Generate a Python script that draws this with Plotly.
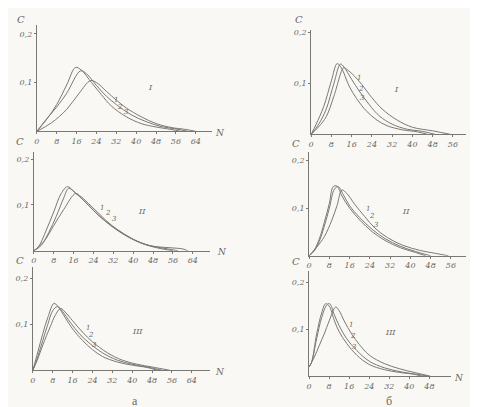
import plotly.graph_objects as go

W, H = 478, 407

# ---------------- data (N, C) ----------------
# panel а-I
aI_N1 = [0, 6, 12, 17, 21.6, 24, 28, 32, 36, 42, 48, 54, 60, 64]
aI_C1 = [0, 0.018, 0.045, 0.078, 0.104, 0.100, 0.082, 0.064, 0.048, 0.030, 0.016, 0.008, 0.004, 0]
aI_N2 = [0, 4, 8, 12, 17.6, 20, 24, 28, 32, 38, 44, 50, 56, 61]
aI_C2 = [0, 0.026, 0.050, 0.078, 0.124, 0.118, 0.094, 0.072, 0.055, 0.034, 0.020, 0.010, 0.005, 0]
aI_N3 = [0, 4, 8, 12, 15.6, 18, 22, 26, 30, 36, 42, 48, 54, 58]
aI_C3 = [0, 0.025, 0.055, 0.095, 0.131, 0.125, 0.100, 0.075, 0.052, 0.030, 0.016, 0.009, 0.004, 0]

# panel а-II
aII_N1 = [0, 4, 8, 12, 16.8, 19, 23, 27, 31, 36, 42, 48, 54, 60, 62]
aII_C1 = [0, 0.02, 0.055, 0.09, 0.125, 0.118, 0.098, 0.077, 0.057, 0.038, 0.02, 0.01, 0.007, 0.004, 0]
aII_N2 = [0, 3, 6, 9, 12, 14, 17, 21, 25, 29, 34, 40, 46, 52, 58]
aII_C2 = [0, 0.012, 0.04, 0.075, 0.115, 0.136, 0.125, 0.105, 0.083, 0.064, 0.044, 0.025, 0.012, 0.006, 0]
aII_N3 = [0, 2, 5, 8, 11, 13.5, 16, 20, 24, 28, 33, 38, 44, 50, 56]
aII_C3 = [0, 0.01, 0.045, 0.085, 0.125, 0.140, 0.130, 0.110, 0.088, 0.068, 0.047, 0.030, 0.015, 0.006, 0]

# panel а-III
aIII_N1 = [0, 2, 4, 7, 9, 11.2, 13, 16, 20, 24, 30, 36, 42, 48, 55]
aIII_C1 = [0, 0.025, 0.055, 0.095, 0.12, 0.135, 0.127, 0.108, 0.083, 0.062, 0.038, 0.022, 0.013, 0.007, 0]
aIII_N2 = [0, 2, 4, 6, 8, 9.9, 12, 15, 19, 23, 28, 34, 40, 46, 52]
aIII_C2 = [0, 0.03, 0.065, 0.1, 0.13, 0.139, 0.128, 0.105, 0.078, 0.058, 0.038, 0.022, 0.013, 0.007, 0]
aIII_N3 = [0, 2, 4, 6, 8.5, 10, 13, 16, 20, 24, 28, 34, 40, 46, 50]
aIII_C3 = [0, 0.04, 0.08, 0.115, 0.146, 0.14, 0.115, 0.09, 0.065, 0.045, 0.03, 0.018, 0.011, 0.006, 0]

# panel б-I
bI_N1 = [0, 3, 6, 9, 12.9, 14, 17, 20, 24, 28, 34, 40, 48, 55]
bI_C1 = [0, 0.015, 0.035, 0.075, 0.131, 0.128, 0.115, 0.098, 0.072, 0.05, 0.028, 0.014, 0.007, 0]
bI_N2 = [0, 3, 6, 9, 11.6, 13, 16, 19, 23, 27, 32, 38, 44, 49]
bI_C2 = [0, 0.02, 0.05, 0.1, 0.138, 0.132, 0.108, 0.085, 0.058, 0.036, 0.02, 0.01, 0.006, 0]
bI_N3 = [0, 2, 5, 8, 10.3, 12, 15, 18, 22, 26, 30, 36, 42, 46]
bI_C3 = [0, 0.02, 0.055, 0.105, 0.139, 0.13, 0.095, 0.07, 0.045, 0.028, 0.017, 0.009, 0.005, 0]

# panel б-II
bII_N1 = [0, 3, 6, 9, 11, 13, 15, 18, 22, 26, 31, 37, 44, 50, 55]
bII_C1 = [0, 0.018, 0.04, 0.075, 0.105, 0.138, 0.13, 0.108, 0.082, 0.058, 0.038, 0.022, 0.011, 0.005, 0]
bII_N2 = [0, 2, 4, 6, 8, 10, 11.5, 13.5, 16, 20, 25, 30, 36, 42, 48]
bII_C2 = [0, 0.01, 0.03, 0.062, 0.1, 0.14, 0.145, 0.128, 0.105, 0.08, 0.055, 0.036, 0.02, 0.009, 0]
bII_N3 = [0, 2, 4, 6, 8, 9.5, 11, 13, 16, 20, 25, 30, 36, 42, 46]
bII_C3 = [0, 0.012, 0.035, 0.07, 0.11, 0.145, 0.146, 0.125, 0.1, 0.075, 0.05, 0.032, 0.017, 0.007, 0]

# panel б-III
bIII_N1 = [0, 2, 4, 6, 8, 10.6, 12, 14, 17, 20, 24, 30, 36, 42, 48.4]
bIII_C1 = [0.02, 0.04, 0.065, 0.09, 0.118, 0.148, 0.14, 0.118, 0.09, 0.068, 0.045, 0.027, 0.016, 0.008, 0]
bIII_N2 = [0, 1, 3, 5, 7, 8.2, 10, 12, 15, 19, 24, 30, 37, 43, 47.6]
bIII_C2 = [0.02, 0.03, 0.08, 0.125, 0.152, 0.155, 0.132, 0.108, 0.08, 0.055, 0.032, 0.018, 0.009, 0.004, 0]
bIII_N3 = [0, 1, 3, 5, 6.6, 8, 10, 12, 15, 19, 24, 30, 36, 42, 45]
bIII_C3 = [0.02, 0.03, 0.09, 0.135, 0.155, 0.15, 0.12, 0.095, 0.07, 0.045, 0.025, 0.014, 0.008, 0.004, 0]

# tick labels
ticks_a = [0, 8, 16, 24, 32, 40, 48, 56, 64]
ticks_b12 = [0, 8, 16, 24, 32, 40, 48, 56]
ticks_b3 = [0, 8, 16, 24, 32, 40, 48]
yticks = [0.1, 0.2]
yticktext = ["0,1", "0,2"]
roman = ["I", "II", "III"]
curve_labels = ["1", "2", "3"]
# ---------------------------------------------------------------------

LINE = "#7a7872"
TXT = "#6a6862"
BG = "#f9f8f5"

panels = [
    # (series, x domain px (left,right), y domain px (bottom, top), x range max, y range max, xticks)
    ([(aI_N1, aI_C1), (aI_N2, aI_C2), (aI_N3, aI_C3)], (26, 202), (122, 15), 70.4, 0.218, ticks_a),
    ([(bI_N1, bI_C1), (bI_N2, bI_C2), (bI_N3, bI_C3)], (302, 458), (125, 20), 61.2, 0.205, ticks_b12),
    ([(aII_N1, aII_C1), (aII_N2, aII_C2), (aII_N3, aII_C3)], (23, 200), (242, 143), 70.8, 0.215, ticks_a),
    ([(bII_N1, bII_C1), (bII_N2, bII_C2), (bII_N3, bII_C3)], (300, 458), (247, 143), 62.0, 0.217, ticks_b12),
    ([(aIII_N1, aIII_C1), (aIII_N2, aIII_C2), (aIII_N3, aIII_C3)], (22, 200), (362, 258), 71.2, 0.226, ticks_a),
    ([(bIII_N1, bIII_C1), (bIII_N2, bIII_C2), (bIII_N3, bIII_C3)], (300, 443), (368, 262), 56.7, 0.2255, ticks_b3),
]

fig = go.Figure()
layout = {}
tickfont = dict(family="DejaVu Serif", size=8, color=TXT, style="italic")

for i, (series, (xl, xr), (yb, yt), xmax, ymax, xt) in enumerate(panels, start=1):
    sx = "" if i == 1 else str(i)
    for (n, c) in series:
        fig.add_trace(go.Scatter(
            x=n, y=c, mode="lines", xaxis="x" + sx, yaxis="y" + sx,
            line=dict(color=LINE, width=1, shape="spline", smoothing=1.0),
            showlegend=False, hoverinfo="skip"))
    layout["xaxis" + sx] = dict(
        domain=[xl / W, xr / W], range=[0, xmax], anchor="y" + sx,
        showline=True, linecolor=LINE, linewidth=1, showgrid=False, zeroline=False,
        tickmode="array", tickvals=xt, ticktext=[str(v) for v in xt],
        ticks="outside", ticklen=2, tickcolor=LINE, tickfont=tickfont)
    layout["yaxis" + sx] = dict(
        domain=[1 - yb / H, 1 - yt / H], range=[0, ymax], anchor="x" + sx,
        showline=True, linecolor=LINE, linewidth=1, showgrid=False, zeroline=False,
        tickmode="array", tickvals=yticks, ticktext=yticktext,
        ticks="outside", ticklen=2, tickcolor=LINE, tickfont=tickfont)


def P(x, y):
    return x / W, 1 - y / H


ann = []


def text(x, y, s, size=9, family="DejaVu Serif", italic=True):
    px, py = P(x, y)
    ann.append(dict(x=px, y=py, xref="paper", yref="paper", text=s, showarrow=False,
                    xanchor="center", yanchor="middle", borderpad=0,
                    font=dict(family=family, size=size, color=TXT,
                              style="italic" if italic else "normal")))


# "C" axis titles and "N" labels
for (cx, cy) in [(10, 10), (290, 10), (9, 132), (287, 134), (9, 252), (287, 253)]:
    text(cx, cy, "C", size=10)
for (nx, ny) in [(210, 124), (466, 127), (212, 243), (466, 248), (210, 364), (451, 370)]:
    text(nx, ny, "N", size=9)

# roman numerals
for (rx, ry), r in zip([(140, 78), (388, 80), (132, 202), (397, 202), (127, 323), (382, 324)],
                       [roman[0], roman[0], roman[1], roman[1], roman[2], roman[2]]):
    text(rx, ry, r, size=8)

# curve numbers
label_pos = [
    [(106, 90), (110, 97), (116, 103)],
    [(350, 68), (352, 79), (354, 88)],
    [(92, 199), (98, 204), (104, 210)],
    [(359, 200), (363, 207), (368, 216)],
    [(77, 320), (81, 327), (84, 337)],
    [(342, 317), (344, 328), (346, 339)],
]
for trio in label_pos:
    for (lx, ly), s in zip(trio, curve_labels):
        text(lx, ly, s, size=7)

# panel group letters
text(125, 393, "а", size=12, family="Liberation Serif", italic=False)
text(380, 393, "б", size=12, family="Liberation Serif", italic=False)

layout.update(
    width=W, height=H, margin=dict(l=0, r=0, t=0, b=0),
    paper_bgcolor=BG, plot_bgcolor=BG, annotations=ann,
)
fig.update_layout(**layout)
fig.write_html("out.html")
